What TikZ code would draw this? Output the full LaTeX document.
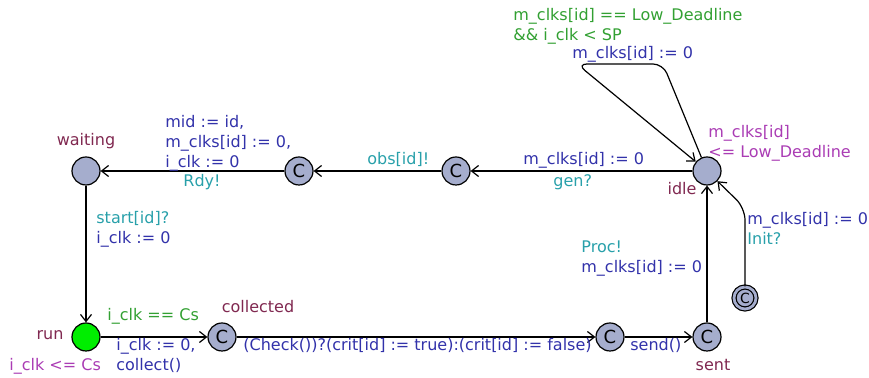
\documentclass[tikz,border=0pt]{standalone}
\usepackage{fontspec}
\setmainfont{DejaVu Sans}
\usepackage{tikz}
\usetikzlibrary{positioning,calc,arrows.meta}

\definecolor{locfill}{RGB}{165,173,205}
\definecolor{runfill}{RGB}{0,238,0}
\definecolor{namecol}{RGB}{128,40,80}
\definecolor{invcol}{RGB}{170,60,180}
\definecolor{guardcol}{RGB}{50,160,50}
\definecolor{assigncol}{RGB}{50,50,170}
\definecolor{synccol}{RGB}{40,160,170}

\tikzset{
  loc/.style={draw, circle, fill=locfill, line width=0.6pt, minimum size=14pt, inner sep=0pt, font=\fontsize{9}{9}\selectfont},
  lbl/.style={anchor=base west, inner sep=0pt, align=left, font=\fontsize{8}{10}\selectfont},
  locname/.style={lbl, anchor=base, text=namecol},
  invlbl/.style={lbl, text=invcol},
  guardlbl/.style={lbl, text=guardcol},
  assignlbl/.style={lbl, text=assigncol},
  synclbl/.style={lbl, text=synccol},
  edge/.style={draw, line width=0.6pt, -{Straight Barb[length=3.5pt,width=5.5pt]}}
}

\begin{document}
\begin{tikzpicture}[x=0.5pt, y=-0.5pt]
    \useasboundingbox (0,0) rectangle (869,378);

    % locations
    \node (waiting) [loc] at (86,171) {};
    \node (rdy) [loc] at (299,171) {C};
    \node (obs) [loc] at (456,171) {C};
    \node (idle) [loc] at (707,171) {};
    \node (run) [loc, fill=runfill] at (86,337) {};
    \node (collected) [loc] at (222,337) {C};
    \node (check) [loc] at (610,337) {C};
    \node (sent) [loc] at (707,337) {C};
    \node (init) [loc, double=locfill, double distance=1.4pt, minimum size=11pt, font=\fontsize{7}{7}\selectfont] at (745,298) {C};

    % nails
    \coordinate (loopa) at (663,64);
    \coordinate (loopb) at (577,64);
    \coordinate (initbend) at (745,208);

    % names and invariants (base = last line)
    \node (waitingname) [locname] at (86,146) {waiting};
    \node (idlename) [locname] at (682,195) {idle};
    \node (runname) [locname] at (50,340) {run};
    \node (collectedname) [locname] at (258,313) {collected};
    \node (sentname) [locname] at (713,371) {sent};
    \node (idleinv) [invlbl] at (708,158) {m\_clks[id]\\<= Low\_Deadline};
    \node (runinv) [invlbl] at (9,371) {i\_clk <= Cs};

    % edges
    \draw[edge] (idle) -- (obs);
    \draw[edge] (obs) -- (rdy);
    \draw[edge] (rdy) -- (waiting);
    \draw[edge] (waiting) -- (run);
    \draw[edge] (run) -- (collected);
    \draw[edge] (collected) -- (check);
    \draw[edge] (check) -- (sent);
    \draw[edge] (sent) -- (idle);
    \draw[edge, rounded corners=6pt] (init) -- (initbend) -- (idle);
    \draw[edge, rounded corners=5pt] (idle) -- (loopa) -- (loopb) -- (idle);

    % edge labels
    \node (loopguard) [guardlbl] at (513,41) {m\_clks[id] == Low\_Deadline\\\&\& i\_clk < SP};
    \node (loopassign) [assignlbl] at (572,59) {m\_clks[id] := 0};
    \node (genassign) [assignlbl] at (523,165) {m\_clks[id] := 0};
    \node (gensync) [synclbl] at (553,187) {gen?};
    \node (obssync) [synclbl] at (367,165) {obs[id]!};
    \node (rdyassign) [assignlbl] at (165,168) {mid := id,\\m\_clks[id] := 0,\\i\_clk := 0};
    \node (rdysync) [synclbl] at (183,187) {Rdy!};
    \node (startsync) [synclbl] at (96,244) {start[id]?\\\textcolor{assigncol}{i\_clk := 0}};
    \node (runguard) [guardlbl] at (107,321) {i\_clk == Cs};
    \node (runassign) [assignlbl] at (116,371) {i\_clk := 0,\\collect()};
    \node (checkassign) [assignlbl] at (243,351) {(Check())?(crit[id] := true):(crit[id] := false)};
    \node (sendassign) [assignlbl] at (630,351) {send()};
    \node (procsync) [synclbl] at (581,273) {Proc!\\\textcolor{assigncol}{m\_clks[id] := 0}};
    \node (initassign) [assignlbl] at (747,245) {m\_clks[id] := 0\\\textcolor{synccol}{Init?}};
\end{tikzpicture}
\end{document}
